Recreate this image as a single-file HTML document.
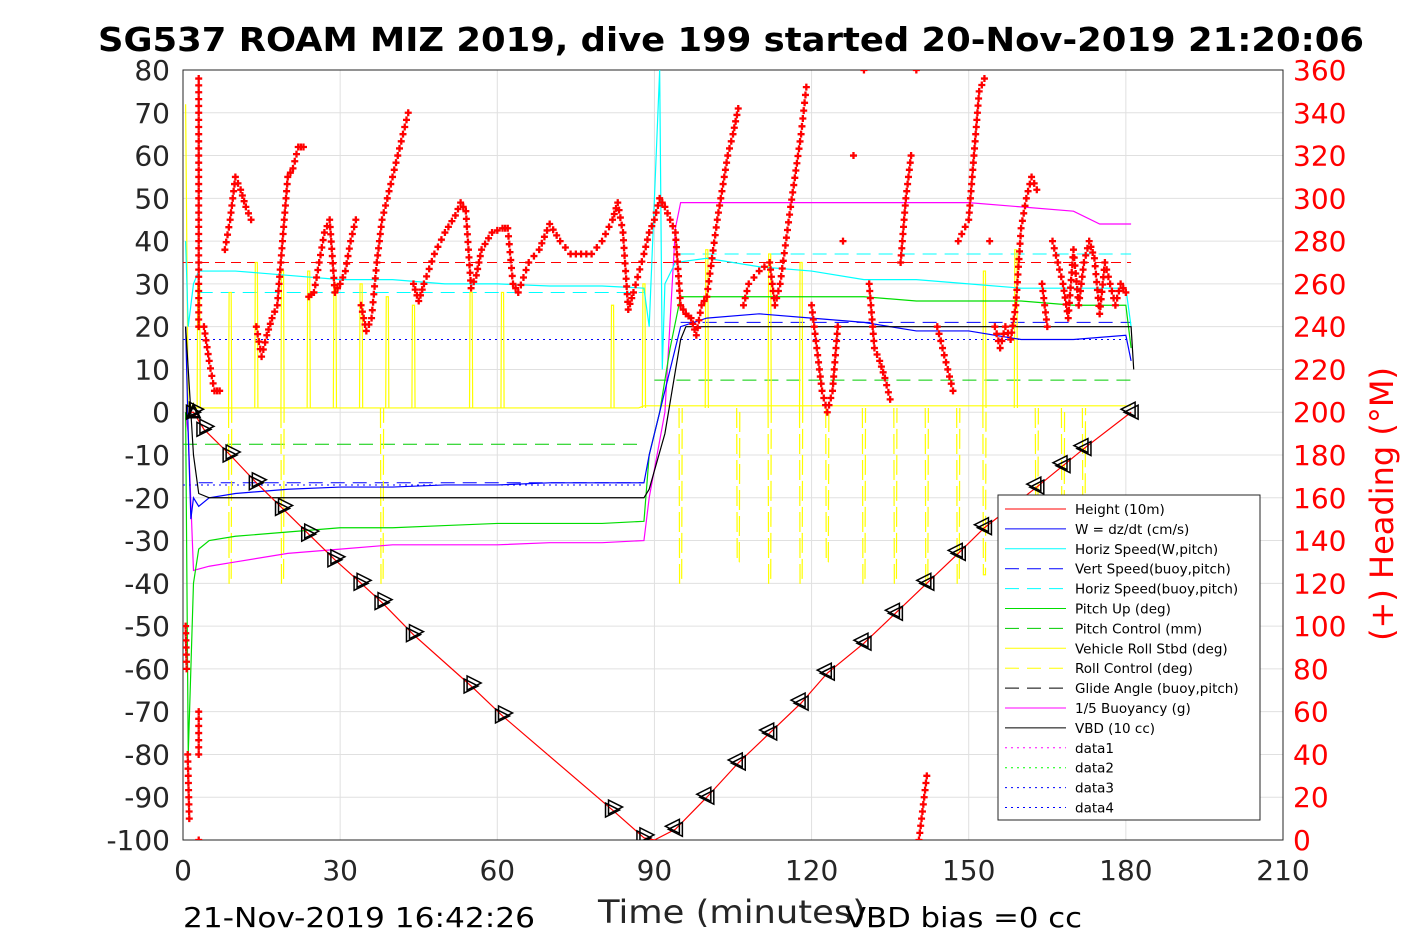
<!DOCTYPE html>
<html><head><meta charset="utf-8"><style>
body{margin:0;background:#fff}
svg{display:block;font-family:"DejaVu Sans","Liberation Sans",sans-serif}
</style></head><body>
<svg id="c" width="1417" height="945"></svg>
<script>
const xTicks=[0,30,60,90,120,150,180,210];
const yTicks=[80,70,60,50,40,30,20,10,0,-10,-20,-30,-40,-50,-60,-70,-80,-90,-100];
const rTicks=[360,340,320,300,280,260,240,220,200,180,160,140,120,100,80,60,40,20,0];
const heightT=[1,2,4,9,14,19,24,29,34,38,44,55,61,82,88,90,94,100,106,112,118,123,130,136,142,148,153,163,168,172,181];
const heightV=[0,0,-4,-10,-16.5,-22.5,-28.5,-34.5,-40,-44.5,-52,-64,-71,-93,-99.5,-100,-97.5,-90,-82,-75,-68,-61,-54,-47,-40,-33,-27,-17.5,-12.5,-8.5,0];
const markT=[2,4,9,14,19,24,29,34,38,44,55,61,82,88,94,100,106,112,118,123,130,136,142,148,153,163,168,172,181];
const wT=[0.5,1,1.5,2,3,5,10,20,30,40,50,60,70,80,88,89,91,93,95,100,110,120,130,140,150,160,170,180,181];
const wV=[20,-5,-25,-20,-22,-20,-19,-18,-17.5,-17.5,-17,-17,-16.5,-16.5,-16.5,-10,0,10,20,22,23,22,21,19,19,17,17,18,12];
const hsT=[0.5,1,2,3,5,10,20,30,40,50,60,70,80,88,89,91,91.5,92,94,100,110,120,130,140,150,160,170,180,181];
const hsV=[40,20,30,33,33,33,32,31,31,30,30,29.5,29.5,29,20,80,10,30,35,36,34,33,31,31,30,29,29,29,20];
const pitchT=[0.5,1,2,3,5,10,20,30,40,50,60,70,80,88,89,91,93,95,100,110,120,130,140,150,160,170,180,181];
const pitchV=[0,-80,-40,-32,-30,-29,-28,-27,-27,-26.5,-26,-26,-26,-25.5,-10,0,15,27,27,27,27,27,26,26,26,25,25,15];
const buoyT=[0.5,1,2,5,10,20,30,40,50,60,70,80,88,89,92,94,95,100,120,140,150,160,170,175,180,181];
const buoyV=[0,-5,-37,-36,-35,-33,-32,-31,-31,-31,-30.5,-30.5,-30,-20,0,43,49,49,49,49,49,48,47,44,44,44];
const vbdT=[0.5,1,2,3,5,88,89,92,95,96,181,181.5];
const vbdV=[20,10,-10,-19,-20,-20,-18,-5,17,20,20,10];
const rollSpikeT=[3,9,14,19,24,29,34,39,44,55,61,82,88,100,112,118,153,159];
const rollSpikeV=[30,28,35,33,33,30,30,27,25,28,28,25,30,38,37,35,33,38];
const rollDipT=[9,19,38,95,106,112,118,123,130,136,142,148,153,163,168,172];
const rollDipV=[-40,-40,-40,-40,-35,-40,-40,-35,-40,-40,-40,-40,-38,-25,-35,-30];
const headT=[0.5,0.7,0.9,1.2,3,3,3,3,3,3,3,3,3,3,4,5,6,7,8,9,10,11,12,13,14,15,16,17,18,19,20,21,22,23,24,25,26,27,28,29,30,31,32,33,34,35,36,37,38,39,40,41,42,43,44,45,46,48,50,52,53,54,55,56,57,59,61,62,63,64,66,68,70,72,74,76,78,80,82,83,84,85,86,88,89,90,91,92,93,94,95,96,97,98,99,100,102,104,105,106,107,108,110,112,113,114,116,118,119,120,121,122,123,124,125,126,128,130,131,132,133,134,135,137,138,139,140,140.5,141,141.5,142,144,145,146,147,148,150,151,152,153,154,155,156,157,158,159,160,161,162,163,164,165,166,167,168,169,170,171,172,173,174,175,176,177,178,179,180];
const headY=[-50,-60,-80,-95,78,70,60,50,40,30,20,-70,-80,-100,20,12,5,5,38,45,55,52,48,45,20,13,18,22,25,40,55,57,62,62,27,28,35,42,45,28,30,33,40,45,25,19,22,35,45,50,55,60,65,70,30,26,30,37,42,46,49,47,29,32,38,42,43,43,30,28,35,38,44,40,37,37,37,40,45,49,42,24,28,37,42,45,50,48,45,42,25,23,22,18,25,27,45,60,65,71,25,30,33,35,25,30,48,65,76,25,15,5,0,5,20,40,60,80,30,15,12,8,3,35,50,60,80,-100,-95,-90,-85,20,15,10,5,40,45,60,75,78,40,20,15,20,17,25,43,50,55,52,30,20,40,35,30,22,38,25,35,40,36,23,35,30,25,30,28,26];

const NS="http://www.w3.org/2000/svg";
const svg=document.getElementById('c');
const X0=183,X1=1283,Y0=840,Y1=70;
const xs=t=>X0+(t/210)*(X1-X0);
const ys=v=>Y0-((v+100)/180)*(Y0-Y1);
const yr=d=>Y0-(d/360)*(Y0-Y1);
function mk(tag,attrs,parent){const e=document.createElementNS(NS,tag);for(const k in attrs)e.setAttribute(k,attrs[k]);(parent||svg).appendChild(e);return e;}
function txt(s,attrs,parent){const e=mk('text',attrs,parent);e.textContent=s;return e;}

const bg=mk('rect',{x:X0,y:Y1,width:X1-X0,height:Y0-Y1,fill:'#fff',stroke:'#262626','stroke-width':1});


const defs=mk('defs',{});
const cp=mk('clipPath',{id:'clip'},defs);mk('rect',{x:X0,y:Y1,width:X1-X0,height:Y0-Y1},cp);
xTicks.forEach(t=>{
  mk('line',{x1:xs(t),x2:xs(t),y1:Y1,y2:Y0,stroke:'#e0e0e0'});
  const l=txt(String(t),{x:xs(t),y:Y0+40,'font-size':28,'text-anchor':'middle',fill:'#262626'});
  
  
});
yTicks.forEach(v=>{
  mk('line',{x1:X0,x2:X1,y1:ys(v),y2:ys(v),stroke:'#e0e0e0'});
  const l=txt(String(v),{x:X0-13,y:ys(v)+10,'font-size':28,'text-anchor':'end',fill:'#262626'});
  
  
});
rTicks.forEach(d=>{
  const l=txt(String(d),{x:X1+10,y:yr(d)+10,'font-size':28,fill:'#ff0000'});
  
  
});
mk('rect',{x:X0,y:Y1,width:X1-X0,height:Y0-Y1,fill:'none',stroke:'#262626','stroke-width':1});

const g=mk('g',{'clip-path':'url(#clip)'});


function hline(v,t0,t1,col,dash,name){const l=mk('line',{x1:xs(t0),x2:xs(t1),y1:ys(v),y2:ys(v),stroke:col,'stroke-width':1,'stroke-dasharray':dash},g);

}
function poly(T,V,col,name,w){const p=mk('polyline',{points:T.map((t,i)=>xs(t)+','+ys(V[i])).join(' '),fill:'none',stroke:col,'stroke-width':w||1.2},g);

}
hline(35,0,181,'#ff0000','10 6','height-reference');
hline(17,0,181,'#0000ff','2 4','data3-line');
hline(-17,0,88,'#0000ff','2 4','data4-line');
hline(-7.5,0,88,'#00cc00','14 8','pitch-control-descent');
hline(7.5,90,181,'#00cc00','14 8','pitch-control-ascent');
hline(28,3,88,'#00ffff','14 8','horiz-speed-buoy-descent');
hline(37,95,181,'#00ffff','14 8','horiz-speed-buoy-ascent');
hline(-16.5,3,88,'#0000ff','14 8','vert-speed-buoy-descent');
hline(21,95,181,'#0000ff','14 8','vert-speed-buoy-ascent');
let rp=[[0.5,72],[1,0],[2,2]];
for(let t=2;t<=181;t+=1){rp.push([t,t<88?1:1.5]);}
const rl=mk('polyline',{points:rp.map(p=>xs(p[0])+','+ys(p[1])).join(' '),fill:'none',stroke:'#ffff00','stroke-width':1.2},g);


rollSpikeT.forEach((t,i)=>{const s=mk('polyline',{points:`${xs(t-0.3)},${ys(1)} ${xs(t-0.2)},${ys(rollSpikeV[i])} ${xs(t+0.2)},${ys(rollSpikeV[i])} ${xs(t+0.3)},${ys(1)}`,fill:'none',stroke:'#ffff00','stroke-width':1.2},g);

});
rollDipT.forEach((t,i)=>{const s=mk('polyline',{points:`${xs(t-0.3)},${ys(1)} ${xs(t-0.2)},${ys(rollDipV[i])} ${xs(t+0.2)},${ys(rollDipV[i])} ${xs(t+0.3)},${ys(1)}`,fill:'none',stroke:'#ffff00','stroke-width':1.2,'stroke-dasharray':'20 6'},g);

});
poly(buoyT,buoyV,'#ff00ff','buoyancy-line');
poly(pitchT,pitchV,'#00dd00','pitch-line');
poly(hsT,hsV,'#00ffff','horiz-speed-line');
poly(wT,wV,'#0000ff','w-line');
poly(vbdT,vbdV,'#000000','vbd-line');
poly(heightT,heightV,'#ff0000','height-line');
markT.forEach(t=>{
  let v;for(let i=1;i<heightT.length;i++){if(t<=heightT[i]){const f=(t-heightT[i-1])/(heightT[i]-heightT[i-1]);v=heightV[i-1]+f*(heightV[i]-heightV[i-1]);break;}}
  const cx=xs(t),cy=ys(v),s=7,dir=t<89?1:-1;
  [0,3].forEach(o=>{
    const p=mk('polygon',{points:`${cx+o*dir-s*dir},${cy-s-o} ${cx+o*dir-s*dir},${cy+s-o} ${cx+o*dir+s*dir},${cy-o}`,fill:'none',stroke:'#000','stroke-width':1.5},g);
    
    
  });
});
function plus(cx,cy){
  const p=mk('path',{d:`M${cx-3.5},${cy}H${cx+3.5}M${cx},${cy-3.5}V${cy+3.5}`,stroke:'#ff0000','stroke-width':2.3,fill:'none'},g);
  
  
}
headT.forEach((t,i)=>{
  plus(xs(t),ys(headY[i]));
  if(i+1<headT.length){
    const dt=headT[i+1]-t, dy=headY[i+1]-headY[i];
    const vertical=(dt===0&&dy<0&&dy>-15);
    if((dt>0&&dt<=2.1&&Math.abs(dy)<20)||vertical){
      const n=Math.max(2,Math.ceil(Math.abs(ys(headY[i+1])-ys(headY[i]))/8));
      for(let k=1;k<n;k++){plus(xs(t+dt*k/n),ys(headY[i]+dy*k/n));}
    }
  }
});
const st=mk('polygon',{points:`${xs(2)-6},${ys(0)+5} ${xs(2)+6},${ys(0)+5} ${xs(2)},${ys(0)-7}`,fill:'none',stroke:'#000','stroke-width':2.5},g);



const lg=mk('g',{});


mk('rect',{x:998,y:495,width:262,height:325,fill:'#fff',stroke:'#262626'},lg);
const legItems=[['Height (10m)','#ff0000',''],['W = dz/dt (cm/s)','#0000ff',''],['Horiz Speed(W,pitch)','#00ffff',''],['Vert Speed(buoy,pitch)','#0000ff','14 8'],['Horiz Speed(buoy,pitch)','#00ffff','14 8'],['Pitch Up (deg)','#00dd00',''],['Pitch Control (mm)','#00cc00','14 8'],['Vehicle Roll Stbd (deg)','#ffff00',''],['Roll Control (deg)','#ffff00','14 8'],['Glide Angle (buoy,pitch)','#000000','14 8'],['1/5 Buoyancy (g)','#ff00ff',''],['VBD (10 cc)','#000000',''],['data1','#ff00ff','2 4'],['data2','#00ff00','2 4'],['data3','#0000ff','2 4'],['data4','#0000ff','2 4']];
legItems.forEach((it,i)=>{
  const y=509+i*19.9;
  const e=mk('g',{},lg);
  
  
  mk('line',{x1:1005,x2:1066,y1:y,y2:y,stroke:it[1],'stroke-dasharray':it[2]},e);
  txt(it[0],{x:1075,y:y+5,'font-size':13.5,fill:'#000'},e);
});

const tt=txt('SG537 ROAM MIZ 2019, dive 199 started 20-Nov-2019 21:20:06',{x:98,y:51,'font-size':33,'font-weight':'bold',fill:'#000',textLength:1266,lengthAdjust:'spacingAndGlyphs'});


const xl=txt('Time (minutes)',{x:598,y:923,'font-size':32,fill:'#262626',textLength:268,lengthAdjust:'spacingAndGlyphs'});


const dl=txt('21-Nov-2019 16:42:26',{x:183,y:927,'font-size':28,fill:'#000',textLength:352,lengthAdjust:'spacingAndGlyphs'});


const vb=txt('VBD bias =0 cc',{x:845,y:927,'font-size':28,fill:'#000',textLength:237,lengthAdjust:'spacingAndGlyphs'});


const ry=txt('(+) Heading (°M)',{x:0,y:0,'font-size':32,'text-anchor':'middle',fill:'#ff0000',transform:'translate(1393,504) rotate(-90)'});


</script>
</body></html>
